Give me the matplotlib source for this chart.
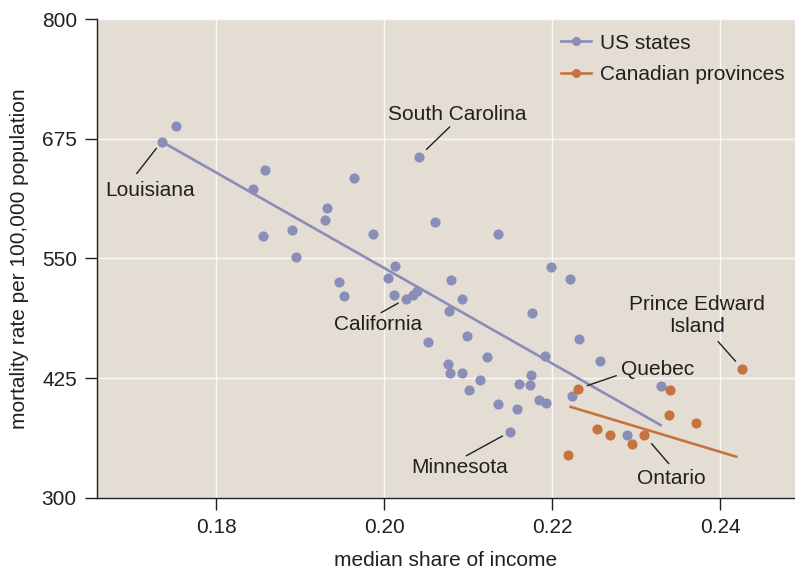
import numpy as np
import matplotlib
matplotlib.use('Agg')
import matplotlib.pyplot as plt

plt.rcParams['font.family'] = ['Liberation Sans', 'DejaVu Sans']

# US states: median share of income vs mortality rate per 100,000
us_share = [0.1735, 0.1752, 0.1858, 0.1844, 0.1964, 0.1932, 0.1929, 0.1890, 0.1856, 0.1987,
            0.1895, 0.1946, 0.1952, 0.2041, 0.2060, 0.2136, 0.2013, 0.2004, 0.2012, 0.2026,
            0.2034, 0.2039, 0.2079, 0.2093, 0.2077, 0.2176, 0.2052, 0.2099, 0.2198, 0.2221,
            0.2232, 0.2122, 0.2191, 0.2257, 0.2076, 0.2078, 0.2093, 0.2114, 0.2101, 0.2175,
            0.2173, 0.2160, 0.2184, 0.2192, 0.2136, 0.2158, 0.2224, 0.2150, 0.2289, 0.2329]
us_mort = [672, 688, 642, 622, 634, 603, 590, 580, 573, 576,
           552, 525, 511, 656, 588, 576, 542, 530, 512, 508,
           512, 516, 527, 508, 495, 493, 463, 469, 541, 529,
           466, 447, 448, 443, 440, 430, 430, 423, 413, 428,
           418, 419, 402, 399, 398, 393, 406, 369, 366, 417]

# Canadian provinces
ca_share = [0.2231, 0.2340, 0.2426, 0.2339, 0.2371, 0.2253, 0.2269, 0.2309, 0.2295, 0.2219]
ca_mort = [414, 413, 435, 387, 378, 372, 366, 366, 356, 345]

# fitted lines as drawn in the source (end points)
us_fit_x = [0.1735, 0.2329]
us_fit_y = [672, 376]
ca_fit_x = [0.2222, 0.2419]
ca_fit_y = [395, 343]

# labelled points: (series, index, text)
labels = [('us', 0, 'Louisiana'),
          ('us', 13, 'South Carolina'),
          ('us', 19, 'California'),
          ('us', 47, 'Minnesota'),
          ('ca', 0, 'Quebec'),
          ('ca', 7, 'Ontario'),
          ('ca', 2, 'Prince Edward\nIsland')]

blue = '#8A8DB8'
orange = '#C8733F'
bg = '#E3DDD4'
txt = '#231F20'

fig = plt.figure(figsize=(7.95, 5.69), dpi=100)
ax = fig.add_axes([0.122, 0.125, 0.878, 0.8416])
ax.set_facecolor(bg)

for xs, ys, fx, fy, c, name in [(us_share, us_mort, us_fit_x, us_fit_y, blue, 'US states'),
                                (ca_share, ca_mort, ca_fit_x, ca_fit_y, orange, 'Canadian provinces')]:
    ax.plot(fx, fy, color=c, lw=1.9, zorder=3)
    ax.plot(xs, ys, 'o', color=c, ms=7.3, mec='none', zorder=4)
    ax.plot([], [], '-o', color=c, lw=1.9, ms=5.5, label=name)

# label placement: text offset, leader far-end offset (pixels), gap at point (pt)
layout = {'Louisiana': ((-12, -49), (-25, -32), 6.2),
          'South Carolina': ((39, 42), (31, 30), 7.7),
          'California': ((-28, -26), (-25, -14), 6.5),
          'Minnesota': ((-51, -36), (-44, -24), 6.3),
          'Quebec': ((79, 19), (38, 13), 6.8),
          'Ontario': ((28, -44), (25, -29), 8.5),
          'Prince Edward\nIsland': ((-45, 53), (-24, 27), 7.1)}

for series, i, text in labels:
    if series == 'us':
        pt = (us_share[i], us_mort[i])
    else:
        pt = (ca_share[i], ca_mort[i])
    toff, loff, gap = layout[text]
    ax.annotate(text, xy=pt, xytext=toff, textcoords='offset pixels',
                ha='center', va='center', fontsize=15, color=txt,
                linespacing=1.2, zorder=5)
    ax.annotate('', xy=pt, xytext=loff, textcoords='offset pixels',
                arrowprops=dict(arrowstyle='-', color=txt, lw=1.0,
                                shrinkA=0, shrinkB=gap), zorder=5)

ax.set_xlim(0.1658, 0.2489)
ax.set_ylim(300, 800)
ax.set_xticks([0.18, 0.20, 0.22, 0.24])
ax.set_xticklabels(['0.18', '0.20', '0.22', '0.24'])
ax.set_yticks([300, 425, 550, 675, 800])
ax.grid(True, color='white', lw=1.0, alpha=0.8)
ax.set_axisbelow(True)
for s in ['top', 'right']:
    ax.spines[s].set_visible(False)
for s in ['left', 'bottom']:
    ax.spines[s].set_color(txt)
    ax.spines[s].set_linewidth(1.0)
ax.tick_params(axis='both', labelsize=15, colors=txt, length=8.5, width=1.0, pad=6)

ax.set_xlabel('median share of income', fontsize=15, color=txt, labelpad=10)
ax.set_ylabel('mortality rate per 100,000 population', fontsize=15, color=txt, labelpad=9)

ax.legend(loc='upper right', bbox_to_anchor=(0.997, 0.987), frameon=False, fontsize=15,
          handlelength=1.4, handletextpad=0.45, labelspacing=0.6, borderaxespad=0,
          labelcolor=txt)

plt.savefig('out.png', dpi=100)
